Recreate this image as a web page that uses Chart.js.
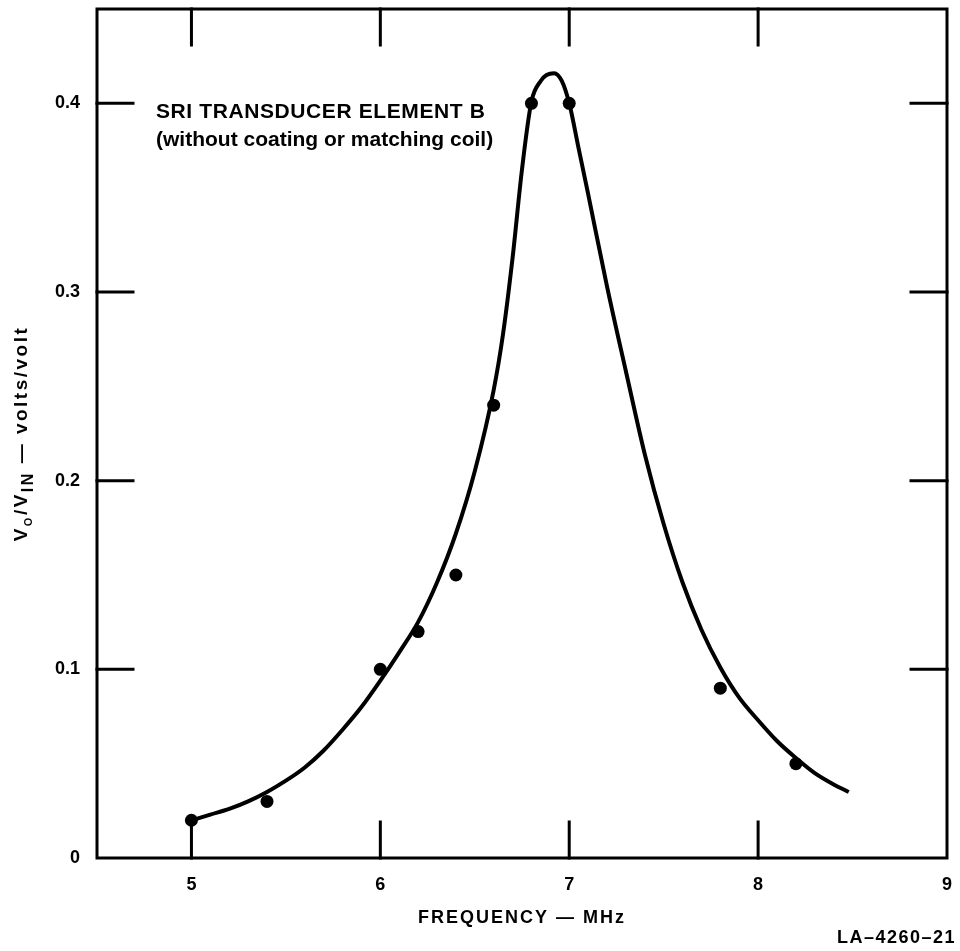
<!DOCTYPE html>
<html>
<head>
<meta charset="utf-8">
<title>SRI transducer element B - response</title>
<script src="https://cdn.jsdelivr.net/npm/chart.js@4.4.1/dist/chart.umd.min.js"></script>
<style>
  html, body { margin: 0; padding: 0; background: #fff; }
  #wrap { width: 960px; height: 951px; }
</style>
</head>
<body>
<div id="wrap"><canvas id="respChart" width="960" height="951"></canvas></div>
<script>
// measured points (frequency in MHz, Vo/Vin in volts/volt)
const measFreq  = [5.0, 5.4, 6.0, 6.2, 6.4, 6.6, 6.8, 7.0, 7.8, 8.2];
const measRatio = [0.02, 0.03, 0.10, 0.12, 0.15, 0.24, 0.40, 0.40, 0.09, 0.05];

// faired response curve
const curveFreq  = [4.97, 5.1, 5.2, 5.3, 5.4, 5.5, 5.6, 5.7, 5.8, 5.9, 6.0, 6.1, 6.2, 6.3, 6.4,
                    6.5, 6.6, 6.65, 6.7, 6.75, 6.8, 6.85, 6.88, 6.92, 6.96, 7.0, 7.05, 7.1, 7.2,
                    7.3, 7.4, 7.5, 7.6, 7.7, 7.8, 7.9, 8.0, 8.1, 8.2, 8.3, 8.4, 8.48];
const curveRatio = [0.019, 0.023, 0.026, 0.030, 0.035, 0.041, 0.048, 0.057, 0.068, 0.080, 0.094,
                    0.109, 0.125, 0.146, 0.172, 0.205, 0.248, 0.278, 0.318, 0.365, 0.401, 0.412,
                    0.415, 0.416, 0.412, 0.400, 0.376, 0.352, 0.303, 0.258, 0.214, 0.177, 0.146,
                    0.121, 0.101, 0.085, 0.073, 0.062, 0.053, 0.045, 0.039, 0.035];

const xTicks = [5, 6, 7, 8, 9];
const yTicks = [0, 0.1, 0.2, 0.3, 0.4];

const FONT = "'Liberation Sans', Arial, Helvetica, sans-serif";
const INK = '#000';

// frame round the plot plus short inward tick marks on all four sides
const framePlugin = {
  id: 'frame',
  beforeDatasetsDraw(chart) {
    const {ctx, chartArea: a, scales: {x, y}} = chart;
    const len = 36;
    ctx.save();
    ctx.strokeStyle = INK;
    ctx.lineWidth = 3;
    ctx.lineCap = 'square';
    ctx.strokeRect(a.left, a.top, a.right - a.left, a.bottom - a.top);
    ctx.beginPath();
    xTicks.filter(v => v > x.min && v < x.max).forEach(v => {
      const px = x.getPixelForValue(v);
      ctx.moveTo(px, a.bottom); ctx.lineTo(px, a.bottom - len);
      ctx.moveTo(px, a.top);    ctx.lineTo(px, a.top + len);
    });
    yTicks.filter(v => v > y.min && v < y.max).forEach(v => {
      const py = y.getPixelForValue(v);
      ctx.moveTo(a.left, py);  ctx.lineTo(a.left + len, py);
      ctx.moveTo(a.right, py); ctx.lineTo(a.right - len, py);
    });
    ctx.stroke();
    ctx.restore();
  }
};

// axis titles, note and drawing number
const textPlugin = {
  id: 'texts',
  afterDraw(chart) {
    const {ctx, chartArea: a} = chart;
    ctx.save();
    ctx.fillStyle = INK;

    // note inside the plot
    ctx.font = 'bold 21px ' + FONT;
    ctx.textAlign = 'left';
    ctx.textBaseline = 'alphabetic';
    ctx.letterSpacing = '0.6px';
    ctx.fillText('SRI TRANSDUCER ELEMENT B', 156, 118);
    ctx.letterSpacing = '0px';
    ctx.fillText('(without coating or matching coil)', 156, 146);

    // x title
    ctx.font = 'bold 18px ' + FONT;
    ctx.textAlign = 'center';
    ctx.textBaseline = 'middle';
    ctx.letterSpacing = '2px';
    ctx.fillText('FREQUENCY \u2014 MHz', (a.left + a.right) / 2, 918);

    // drawing number
    ctx.textAlign = 'right';
    ctx.letterSpacing = '1.5px';
    ctx.fillText('LA\u20134260\u201321', 956, 938);

    // y title with subscripts, rotated
    const parts = [
      ['V', 19, 0], ['O', 11, 5], ['/V', 19, 0], ['IN', 16, 6], [' \u2014 volts/volt', 19, 0]
    ];
    ctx.letterSpacing = '2.5px';
    ctx.textAlign = 'left';
    ctx.textBaseline = 'alphabetic';
    let total = 0;
    parts.forEach(p => { ctx.font = 'bold ' + p[1] + 'px ' + FONT; total += ctx.measureText(p[0]).width; });
    ctx.translate(27, (a.top + a.bottom) / 2);
    ctx.rotate(-Math.PI / 2);
    let cx = -total / 2;
    parts.forEach(p => {
      ctx.font = 'bold ' + p[1] + 'px ' + FONT;
      ctx.fillText(p[0], cx, p[2]);
      cx += ctx.measureText(p[0]).width;
    });
    ctx.restore();
  }
};

const data = {
  datasets: [{
    label: 'response',
    data: curveFreq.map((f, i) => ({x: f, y: curveRatio[i]})),
    showLine: true,
    borderColor: INK,
    borderWidth: 4,
    pointRadius: 0,
    cubicInterpolationMode: 'monotone',
    order: 2
  }, {
    label: 'measured',
    data: measFreq.map((f, i) => ({x: f, y: measRatio[i]})),
    showLine: false,
    pointRadius: 6.5,
    pointBackgroundColor: INK,
    pointBorderWidth: 0,
    order: 1
  }]
};

const config = {
  type: 'scatter',
  data: data,
  options: {
    responsive: false,
    animation: false,
    devicePixelRatio: 1,
    layout: { padding: { top: 9, right: 13, left: 0, bottom: 0 } },
    plugins: { legend: { display: false }, tooltip: { enabled: false } },
    scales: {
      x: {
        type: 'linear',
        min: 4.5,
        max: 9,
        grid: { display: false, drawTicks: false },
        border: { display: false },
        afterBuildTicks: s => { s.ticks = xTicks.map(v => ({value: v})); },
        afterFit: s => { s.height = 93; s.paddingLeft = 0; s.paddingRight = 0; },
        ticks: {
          color: INK,
          padding: 16,
          maxRotation: 0,
          font: { family: FONT, size: 18, weight: 'bold' }
        }
      },
      y: {
        type: 'linear',
        min: 0,
        max: 0.45,
        grid: { display: false, drawTicks: false },
        border: { display: false },
        afterBuildTicks: s => { s.ticks = yTicks.map(v => ({value: v})); },
        afterFit: s => { s.width = 97; s.paddingTop = 0; s.paddingBottom = 0; },
        ticks: {
          color: INK,
          padding: 17,
          font: { family: FONT, size: 18, weight: 'bold' },
          callback: v => v === 0 ? '0' : v.toFixed(1)
        }
      }
    }
  },
  plugins: [framePlugin, textPlugin]
};

const respChart = new Chart(document.getElementById('respChart'), config);
</script>
</body>
</html>
